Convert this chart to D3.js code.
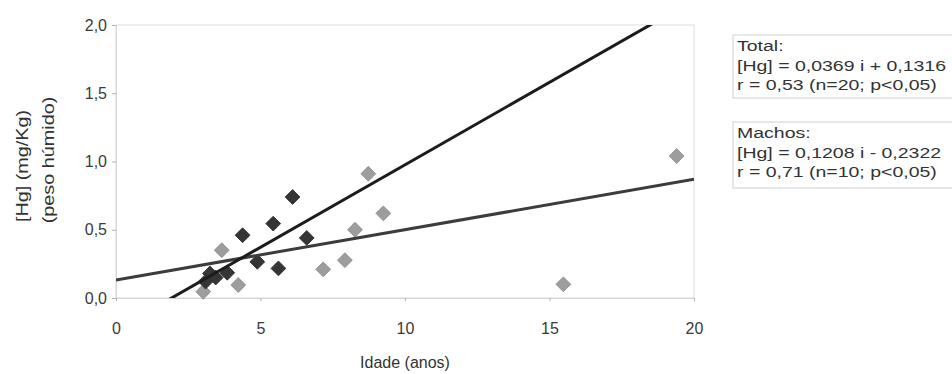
<!DOCTYPE html>
<html><head><meta charset="utf-8">
<script src="https://cdn.jsdelivr.net/npm/d3@7"></script>
<style>
body{margin:0;background:#fff;}
text{font-family:"Liberation Sans",Arial,sans-serif;}
</style></head>
<body><svg id="c" width="952" height="374"></svg>
<script>
// Data
const machosIdade = [6.11, 5.44, 4.38, 4.89, 5.62, 3.25, 3.85, 6.6, 3.1, 3.45];
const machosHg    = [0.74, 0.545, 0.46, 0.265, 0.217, 0.18, 0.185, 0.44, 0.12, 0.15];
const femeasIdade = [3.66, 4.23, 3.02, 8.73, 9.25, 8.27, 7.92, 7.17, 19.4, 15.48];
const femeasHg    = [0.35, 0.095, 0.046, 0.91, 0.62, 0.50, 0.277, 0.21, 1.04, 0.10];
const xTicks = [0, 5, 10, 15, 20];
const yTicks = [0, 0.5, 1.0, 1.5, 2.0];
const regressions = [
  {name: "Total", slope: 0.0369, intercept: 0.1316},
  {name: "Machos", slope: 0.1208, intercept: -0.2322}
];
const legendTotal = ["Total:", "[Hg] = 0,0369 i + 0,1316", "r = 0,53 (n=20; p<0,05)"];
const legendMachos = ["Machos:", "[Hg] = 0,1208 i - 0,2322", "r = 0,71 (n=10; p<0,05)"];

const svg = d3.select("#c");
const L = 116, R = 694, T = 25, B = 298;
const x = d3.scaleLinear().domain([0, 20]).range([L, R]);
const y = d3.scaleLinear().domain([0, 2]).range([B, T]);
const fmt = d => d3.format(".1f")(d).replace(".", ",");

// frame
svg.append("rect").attr("x", L).attr("y", T).attr("width", R - L).attr("height", B - T)
  .attr("fill", "none").attr("stroke", "#dcdcdc").attr("stroke-width", 1);

// axes
const gy = svg.append("g").attr("transform", `translate(${L},0)`)
  .call(d3.axisLeft(y).tickValues(yTicks).tickFormat(fmt).tickSize(4).tickPadding(5));
gy.select(".domain").attr("stroke", "#d4d4d4");
gy.selectAll(".tick line").attr("stroke", "#b0b0b0");
gy.selectAll(".tick text").attr("fill", "#3a3a3a").style("font-size", "16px");

const gx = svg.append("g").attr("transform", `translate(0,${B})`)
  .call(d3.axisBottom(x).tickValues(xTicks).tickFormat(d3.format("d")).tickSize(3).tickPadding(22));
gx.select(".domain").attr("stroke", "#d4d4d4");
gx.selectAll(".tick line").attr("stroke", "#b0b0b0");
gx.selectAll(".tick text").attr("fill", "#3a3a3a").style("font-size", "16px");

// clip
svg.append("clipPath").attr("id", "clip").append("rect")
  .attr("x", L).attr("y", T).attr("width", R - L).attr("height", B - T);

// points
function drawPts(xs, ys, fill, stroke) {
  svg.append("g").selectAll("path").data(xs.map((v, i) => [v, ys[i]])).join("path")
    .attr("d", d3.symbol().type(d3.symbolSquare).size(110))
    .attr("transform", d => `translate(${x(d[0])},${y(d[1])}) rotate(45)`)
    .attr("fill", fill).attr("stroke", stroke).attr("stroke-width", 0.8);
}
drawPts(femeasIdade, femeasHg, "#9d9d9d", "#8a8a8a");
drawPts(machosIdade, machosHg, "#353535", "#2a2a2a");

// regression lines
const lineColors = {Total: "#3c3c3c", Machos: "#1c1c1c"};
const gl = svg.append("g").attr("clip-path", "url(#clip)");
regressions.forEach(r => {
  gl.append("line")
    .attr("x1", x(0)).attr("y1", y(r.intercept))
    .attr("x2", x(20)).attr("y2", y(r.intercept + r.slope * 20))
    .attr("stroke", lineColors[r.name]).attr("stroke-width", 3);
});

// axis titles
svg.append("text").attr("x", 405).attr("y", 368).attr("text-anchor", "middle")
  .attr("fill", "#333").style("font-size", "16px").text("Idade (anos)");
svg.append("text").attr("transform", "translate(28,166) rotate(-90) scale(1.2,1)").attr("text-anchor", "middle")
  .attr("fill", "#333").style("font-size", "16.5px").text("[Hg] (mg/Kg)");
svg.append("text").attr("transform", "translate(54,160) rotate(-90) scale(1.2,1)").attr("text-anchor", "middle")
  .attr("fill", "#333").style("font-size", "16.5px").text("(peso húmido)");

// legend boxes
function legend(lines, top, h) {
  const g = svg.append("g");
  g.append("rect").attr("x", 733).attr("y", top).attr("width", 240).attr("height", h)
    .attr("fill", "#fff").attr("stroke", "#d0d0d0");
  lines.forEach((t, i) => {
    g.append("text").attr("transform", `translate(737,${top + 16 + i * 19.5}) scale(1.3,1)`)
      .attr("fill", "#333").style("font-size", "15px").text(t);
  });
}
legend(legendTotal, 35, 63);
legend(legendMachos, 122, 66);
</script></body></html>
